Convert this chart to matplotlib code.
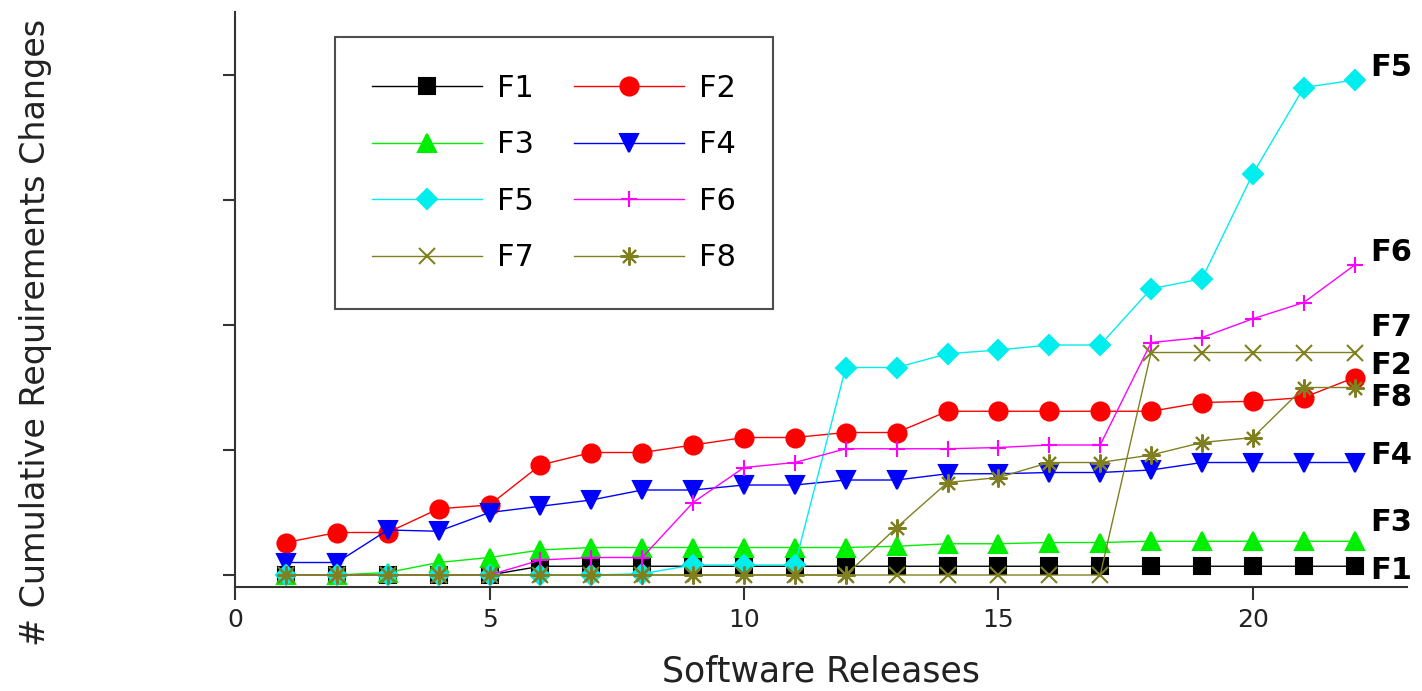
import matplotlib
matplotlib.use("Agg")
import matplotlib.pyplot as plt

plt.rcParams['font.family'] = ['DejaVu Sans']

releases = list(range(1, 23))
names = ['F1', 'F2', 'F3', 'F4', 'F5', 'F6', 'F7', 'F8']

F1 = [0, 0, 0, 0, 0, 0.7, 0.7, 0.7, 0.7, 0.7, 0.7, 0.7, 0.7, 0.7, 0.7, 0.7, 0.7, 0.7, 0.7, 0.7, 0.7, 0.7]
F2 = [2.6, 3.4, 3.4, 5.3, 5.6, 8.8, 9.8, 9.8, 10.4, 11.0, 11.0, 11.4, 11.4, 13.1, 13.1, 13.1, 13.1, 13.1, 13.8, 13.9, 14.2, 15.8]
F3 = [0, 0, 0.2, 1.0, 1.4, 2.0, 2.2, 2.2, 2.2, 2.2, 2.2, 2.2, 2.3, 2.5, 2.5, 2.6, 2.6, 2.7, 2.7, 2.7, 2.7, 2.7]
F4 = [1.0, 1.0, 3.6, 3.5, 5.0, 5.5, 6.0, 6.8, 6.8, 7.2, 7.2, 7.6, 7.6, 8.1, 8.1, 8.2, 8.2, 8.4, 9.0, 9.0, 9.0, 9.0]
F5 = [0, 0, 0, 0, 0, 0, 0, 0.1, 0.8, 0.8, 0.8, 16.6, 16.6, 17.7, 18.0, 18.4, 18.4, 22.9, 23.7, 32.1, 39.0, 39.6]
F6 = [0, 0, 0, 0, 0, 1.2, 1.4, 1.4, 5.8, 8.6, 9.0, 10.1, 10.1, 10.1, 10.2, 10.4, 10.4, 18.6, 19.0, 20.5, 21.8, 24.8]
F7 = [0, 0, 0, 0, 0, 0, 0, 0, 0, 0, 0, 0, 0, 0, 0, 0, 0, 17.8, 17.8, 17.8, 17.8, 17.8]
F8 = [0, 0, 0, 0, 0, 0, 0, 0, 0, 0, 0, 0, 3.8, 7.4, 7.8, 9.0, 9.0, 9.6, 10.6, 11.0, 15.0, 15.0]
series = [F1, F2, F3, F4, F5, F6, F7, F8]

colors = ['black', '#ff0000', '#00ee00', '#0000ff', '#00eeee', '#ff00ff', '#808020', '#808020']
markers = ['s', 'o', '^', 'v', 'D', '+', 'x', (8, 2, 0)]
msizes = [12, 13, 13, 13, 10, 11, 12, 13]

# end-of-line label heights (data units)
label_y = [0.4, 16.8, 4.2, 9.6, 40.6, 25.8, 19.8, 14.2]

fig = plt.figure(figsize=(14.22, 6.91), dpi=100)
ax = fig.add_axes([0.1653, 0.1505, 0.8242, 0.8321])

handles = []
for name, vals, c, m, ms in zip(names, series, colors, markers, msizes):
    h, = ax.plot(releases, vals, color=c, marker=m, markersize=ms, lw=1.0,
                 markeredgecolor=c, markerfacecolor=c, mew=1.5, label=name)
    handles.append(h)

for name, y, c in zip(names, label_y, colors):
    ax.text(22.3, y, name, fontsize=22, fontweight='bold', va='center', ha='left', color='black')

ax.set_xlim(0, 23.03)
ax.set_ylim(-0.96, 45.04)
ax.set_xticks([0, 5, 10, 15, 20])
ax.set_yticks([0, 10, 20, 30, 40])
ax.set_yticklabels([])
ax.tick_params(axis='both', direction='out', length=9, width=1.5, color='#333333',
               labelsize=18, labelcolor='#222222', pad=6)
for s in ['top', 'right']:
    ax.spines[s].set_visible(False)
for s in ['left', 'bottom']:
    ax.spines[s].set_linewidth(1.5)
    ax.spines[s].set_color('#333333')

ax.set_xlabel('Software Releases', fontsize=25, color='#222222', labelpad=16)
ax.set_ylabel('# Cumulative Requirements Changes', fontsize=24, color='#222222')
ax.yaxis.set_label_coords(-0.156, 0.442)

order = [0, 2, 4, 6, 1, 3, 5, 7]
leg = ax.legend([handles[i] for i in order], [names[i] for i in order], ncol=2,
                loc='upper left', bbox_to_anchor=(0.0853, 0.9565), fontsize=22,
                frameon=True, fancybox=False, edgecolor='#222222', handlelength=3.6,
                handletextpad=0.5, columnspacing=1.3, labelspacing=0.9, borderpad=1.2,
                borderaxespad=0)
leg.get_frame().set_linewidth(1.5)

fig.savefig('out.png', dpi=100)
